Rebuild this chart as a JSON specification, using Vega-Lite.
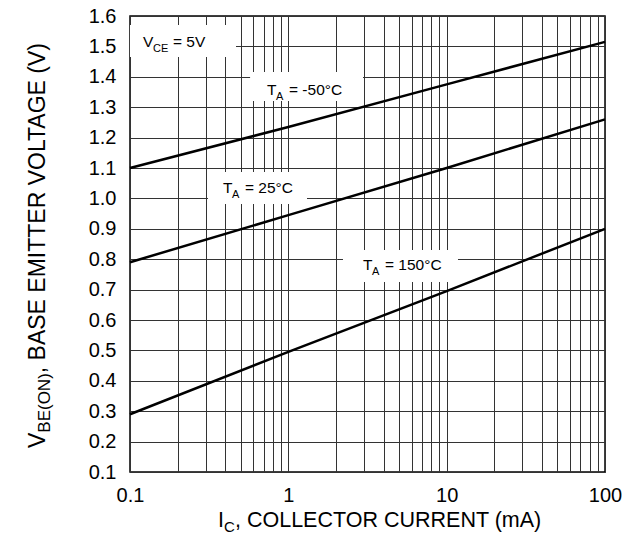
{
  "$schema": "https://vega.github.io/schema/vega-lite/v6.json",
  "width": 475,
  "height": 456,
  "autosize": {"type": "none"},
  "padding": {"left": 130, "top": 16, "right": 29, "bottom": 65},
  "background": "white",
  "config": {
    "view": {"stroke": "black", "strokeWidth": 1.5},
    "font": "Liberation Sans",
    "axis": {"labelFont": "Liberation Sans", "labelColor": "black"}
  },
  "datasets": {
    "curves": [
      {"series": "-50", "x": 0.1, "y": 1.1},
      {"series": "-50", "x": 1, "y": 1.235},
      {"series": "-50", "x": 10, "y": 1.375},
      {"series": "-50", "x": 100, "y": 1.515},
      {"series": "25", "x": 0.1, "y": 0.79},
      {"series": "25", "x": 1, "y": 0.945},
      {"series": "25", "x": 10, "y": 1.1},
      {"series": "25", "x": 100, "y": 1.26},
      {"series": "150", "x": 0.1, "y": 0.29},
      {"series": "150", "x": 1, "y": 0.495},
      {"series": "150", "x": 10, "y": 0.695},
      {"series": "150", "x": 100, "y": 0.9}
    ],
    "boxes": [
      {"x": 0.1, "x2": 0.4672, "y": 1.5704, "y2": 1.4651},
      {"x": 0.5734, "x2": 2.962, "y": 1.4158, "y2": 1.3204},
      {"x": 0.311, "x2": 1.312, "y": 1.0868, "y2": 0.9816},
      {"x": 2.214, "x2": 11.79, "y": 0.8303, "y2": 0.725}
    ],
    "labels": [
      {"kind": "ann", "text": "V", "x": 0.1208, "y": 1.498},
      {"kind": "annsub", "text": "CE", "x": 0.1397, "y": 1.4816},
      {"kind": "ann", "text": "= 5V", "x": 0.1869, "y": 1.498},
      {"kind": "ann", "text": "T", "x": 0.7333, "y": 1.3401},
      {"kind": "annsub", "text": "A", "x": 0.8358, "y": 1.3237},
      {"kind": "ann", "text": "= -50°C", "x": 1.0098, "y": 1.3401},
      {"kind": "ann", "text": "T", "x": 0.3867, "y": 1.0178},
      {"kind": "annsub", "text": "A", "x": 0.4408, "y": 1.0013},
      {"kind": "ann", "text": "= 25°C", "x": 0.5325, "y": 1.0178},
      {"kind": "ann", "text": "T", "x": 2.962, "y": 0.7645},
      {"kind": "annsub", "text": "A", "x": 3.376, "y": 0.748},
      {"kind": "ann", "text": "= 150°C", "x": 4.078, "y": 0.7645},
      {"kind": "xt", "text": "I", "x": 0.3596, "y": -0.0809},
      {"kind": "xtsub", "text": "C", "x": 0.3925, "y": -0.0974},
      {"kind": "xt", "text": ", COLLECTOR CURRENT (mA)", "x": 0.4605, "y": -0.0809},
      {"kind": "yt", "text": "V", "x": 0.02904, "y": 0.1789},
      {"kind": "ytsub", "text": "BE(ON)", "x": 0.03125, "y": 0.2293},
      {"kind": "yt", "text": ", BASE EMITTER VOLTAGE (V)", "x": 0.02904, "y": 0.425}
    ]
  },
  "encoding": {
    "x": {
      "field": "x",
      "type": "quantitative",
      "scale": {"type": "log", "domain": [0.1, 100], "nice": false},
      "axis": {
        "values": [0.1, 0.2, 0.3, 0.4, 0.5, 0.6, 0.7, 0.8, 0.9, 1, 2, 3, 4, 5, 6, 7, 8, 9, 10, 20, 30, 40, 50, 60, 70, 80, 90, 100],
        "format": "~g",
        "labelExpr": "datum.value == 0.1 || datum.value == 1 || datum.value == 10 || datum.value == 100 ? datum.label : ''",
        "grid": true,
        "gridColor": "#333333",
        "gridWidth": 1,
        "gridOpacity": 1,
        "ticks": false,
        "domain": false,
        "title": null,
        "labelFontSize": 20,
        "labelPadding": 13,
        "labelFlush": false,
        "labelOverlap": false
      }
    },
    "y": {
      "field": "y",
      "type": "quantitative",
      "scale": {"domain": [0.1, 1.6], "nice": false, "zero": false},
      "axis": {
        "values": [0.1, 0.2, 0.3, 0.4, 0.5, 0.6, 0.7, 0.8, 0.9, 1.0, 1.1, 1.2, 1.3, 1.4, 1.5, 1.6],
        "format": ".1f",
        "grid": true,
        "gridColor": "#333333",
        "gridWidth": 1,
        "gridOpacity": 1,
        "ticks": false,
        "domain": false,
        "title": null,
        "labelFontSize": 20,
        "labelPadding": 14,
        "labelFlush": false,
        "labelOverlap": false
      }
    }
  },
  "layer": [
    {
      "data": {"name": "boxes"},
      "mark": {"type": "rect", "fill": "white", "strokeWidth": 0},
      "encoding": {"x2": {"field": "x2"}, "y2": {"field": "y2"}}
    },
    {
      "data": {"name": "curves"},
      "mark": {"type": "line", "color": "black", "strokeWidth": 2.5},
      "encoding": {"detail": {"field": "series"}}
    },
    {
      "data": {"name": "labels"},
      "transform": [{"filter": "datum.kind == 'ann'"}],
      "mark": {"type": "text", "align": "left", "baseline": "alphabetic", "fontSize": 15.5, "color": "black", "clip": false},
      "encoding": {"text": {"field": "text"}}
    },
    {
      "data": {"name": "labels"},
      "transform": [{"filter": "datum.kind == 'annsub'"}],
      "mark": {"type": "text", "align": "left", "baseline": "alphabetic", "fontSize": 11, "color": "black", "clip": false},
      "encoding": {"text": {"field": "text"}}
    },
    {
      "data": {"name": "labels"},
      "transform": [{"filter": "datum.kind == 'xt'"}],
      "mark": {"type": "text", "align": "left", "baseline": "alphabetic", "fontSize": 21.5, "color": "black", "clip": false},
      "encoding": {"text": {"field": "text"}}
    },
    {
      "data": {"name": "labels"},
      "transform": [{"filter": "datum.kind == 'xtsub'"}],
      "mark": {"type": "text", "align": "left", "baseline": "alphabetic", "fontSize": 15, "color": "black", "clip": false},
      "encoding": {"text": {"field": "text"}}
    },
    {
      "data": {"name": "labels"},
      "transform": [{"filter": "datum.kind == 'yt'"}],
      "mark": {"type": "text", "align": "left", "baseline": "alphabetic", "fontSize": 23, "angle": 270, "color": "black", "clip": false},
      "encoding": {"text": {"field": "text"}}
    },
    {
      "data": {"name": "labels"},
      "transform": [{"filter": "datum.kind == 'ytsub'"}],
      "mark": {"type": "text", "align": "left", "baseline": "alphabetic", "fontSize": 17, "angle": 270, "color": "black", "clip": false},
      "encoding": {"text": {"field": "text"}}
    }
  ]
}
